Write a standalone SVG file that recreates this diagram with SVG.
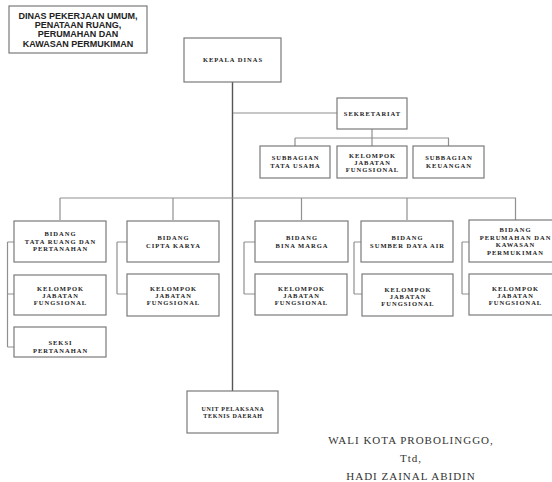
<svg xmlns="http://www.w3.org/2000/svg" width="552" height="482" viewBox="0 0 552 482">
<style>
.box{fill:#fff;stroke:#7a7a7a;stroke-width:1.2}
.t{font-family:"Liberation Serif","Times New Roman",serif;font-weight:bold;font-size:6.5px;letter-spacing:1px;text-anchor:middle;fill:#222}
.ts{font-family:"Liberation Serif","Times New Roman",serif;font-weight:bold;font-size:6px;letter-spacing:0.7px;text-anchor:middle;fill:#222}
.title{font-family:"Liberation Sans",Arial,sans-serif;font-weight:bold;font-size:9px;text-anchor:middle;fill:#222}
.sig{font-family:"Liberation Serif","Times New Roman",serif;font-size:11px;letter-spacing:1px;text-anchor:middle;fill:#333}
.ln{stroke:#909090;stroke-width:1.2;fill:none}
.main{stroke:#555;stroke-width:1.4;fill:none}
</style>
<rect width="552" height="482" fill="#fff"/>
<g id="connectors">
<path class="main" d="M232.5 82V391"/>
<path class="ln" d="M233 113H337"/>
<path class="ln" d="M372 129V138M295 138H449M295 138V146M372 138V146M448.5 138V146"/>
<path class="ln" d="M60 198H516M60 198V220M173 198V220M301.5 198V220M407 198V220M515.5 198V220"/>
<path class="ln" d="M7.5 242V347M7.5 242H14M7.5 294H14M7.5 347H14"/>
<path class="ln" d="M117 242V294M117 242H127M117 294H127"/>
<path class="ln" d="M244 242V294M244 242H255M244 294H255"/>
<path class="ln" d="M354 242V294M354 242H361M354 294H362"/>
<path class="ln" d="M462 242V294M462 242H469M462 294H469"/>
</g>
<g id="title">
<rect class="box" x="9" y="6" width="138" height="47"/>
<text class="title" x="78" y="18.5">DINAS PEKERJAAN UMUM,</text>
<text class="title" x="78" y="28">PENATAAN RUANG,</text>
<text class="title" x="78" y="37.3">PERUMAHAN DAN</text>
<text class="title" x="78" y="46.6">KAWASAN PERMUKIMAN</text>
</g>
<g id="kepala-dinas">
<rect class="box" x="184" y="38" width="97" height="44"/>
<text class="t" x="233" y="62">KEPALA DINAS</text>
</g>
<g id="sekretariat">
<rect class="box" x="337" y="98" width="70" height="31"/>
<text class="t" x="372.5" y="115.5">SEKRETARIAT</text>
</g>
<g id="subbagian-tata-usaha">
<rect class="box" x="260" y="146" width="70" height="32"/>
<text class="t" x="295.5" y="159.5">SUBBAGIAN</text>
<text class="t" x="295.5" y="167.5">TATA USAHA</text>
</g>
<g id="kelompok-sekretariat">
<rect class="box" x="337" y="146" width="70" height="32"/>
<text class="t" x="372.5" y="157.5">KELOMPOK</text>
<text class="t" x="372.5" y="164.5">JABATAN</text>
<text class="t" x="372.5" y="171.5">FUNGSIONAL</text>
</g>
<g id="subbagian-keuangan">
<rect class="box" x="413" y="146" width="71" height="32"/>
<text class="t" x="449" y="159.5">SUBBAGIAN</text>
<text class="t" x="449" y="167.5">KEUANGAN</text>
</g>
<g id="bidang-tata-ruang">
<rect class="box" x="14" y="221" width="92" height="41"/>
<text class="t" x="60.5" y="235.5">BIDANG</text>
<text class="t" x="60.5" y="243.5">TATA RUANG DAN</text>
<text class="t" x="60.5" y="250.5">PERTANAHAN</text>
</g>
<g id="kelompok-tata-ruang">
<rect class="box" x="14" y="275" width="92" height="40"/>
<text class="t" x="60.5" y="290.5">KELOMPOK</text>
<text class="t" x="60.5" y="297.5">JABATAN</text>
<text class="t" x="60.5" y="304.5">FUNGSIONAL</text>
</g>
<g id="seksi-pertanahan">
<rect class="box" x="14" y="327" width="92" height="30"/>
<text class="t" x="60.5" y="345">SEKSI</text>
<text class="t" x="60.5" y="352.5">PERTANAHAN</text>
</g>
<g id="bidang-cipta-karya">
<rect class="box" x="127" y="221" width="92" height="41"/>
<text class="t" x="173.5" y="239.5">BIDANG</text>
<text class="t" x="173.5" y="247.5">CIPTA KARYA</text>
</g>
<g id="kelompok-cipta-karya">
<rect class="box" x="127" y="274" width="92" height="42"/>
<text class="t" x="173.5" y="290.5">KELOMPOK</text>
<text class="t" x="173.5" y="297.5">JABATAN</text>
<text class="t" x="173.5" y="304.5">FUNGSIONAL</text>
</g>
<g id="bidang-bina-marga">
<rect class="box" x="255" y="221" width="93" height="41"/>
<text class="t" x="302" y="239.5">BIDANG</text>
<text class="t" x="302" y="247.5">BINA MARGA</text>
</g>
<g id="kelompok-bina-marga">
<rect class="box" x="255" y="274" width="92" height="41"/>
<text class="t" x="301.5" y="290.5">KELOMPOK</text>
<text class="t" x="301.5" y="297.5">JABATAN</text>
<text class="t" x="301.5" y="304.5">FUNGSIONAL</text>
</g>
<g id="bidang-sumber-daya-air">
<rect class="box" x="361" y="221" width="92" height="41"/>
<text class="t" x="407.5" y="239.5">BIDANG</text>
<text class="t" x="407.5" y="247.5">SUMBER DAYA AIR</text>
</g>
<g id="kelompok-sumber-daya-air">
<rect class="box" x="362" y="274" width="91" height="42"/>
<text class="t" x="408" y="291.5">KELOMPOK</text>
<text class="t" x="408" y="298.5">JABATAN</text>
<text class="t" x="408" y="305.5">FUNGSIONAL</text>
</g>
<g id="bidang-perumahan">
<rect class="box" x="469" y="220" width="92" height="42"/>
<text class="t" x="515.5" y="231.5">BIDANG</text>
<text class="t" x="515.5" y="239.5">PERUMAHAN DAN</text>
<text class="t" x="515.5" y="246.5">KAWASAN</text>
<text class="t" x="515.5" y="254.5">PERMUKIMAN</text>
</g>
<g id="kelompok-perumahan">
<rect class="box" x="469" y="274" width="92" height="41"/>
<text class="t" x="515.5" y="290.5">KELOMPOK</text>
<text class="t" x="515.5" y="297.5">JABATAN</text>
<text class="t" x="515.5" y="304.5">FUNGSIONAL</text>
</g>
<g id="upt">
<rect class="box" x="187" y="391" width="91" height="42"/>
<text class="ts" x="233" y="410.5">UNIT PELAKSANA</text>
<text class="ts" x="233" y="417.5">TEKNIS DAERAH</text>
</g>
<g id="signature">
<text class="sig" x="411" y="444">WALI KOTA PROBOLINGGO,</text>
<text class="sig" x="411" y="462">Ttd,</text>
<text class="sig" x="411" y="480">HADI ZAINAL ABIDIN</text>
</g>
</svg>
